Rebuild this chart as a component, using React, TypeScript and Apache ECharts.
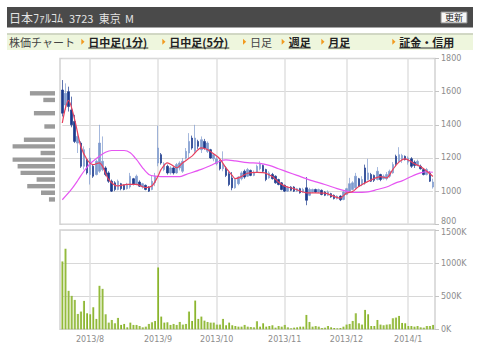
import React, { useEffect, useRef } from 'react';
import * as echarts from 'echarts';

// ---- categories (trading days) ----
const monthLabels = ['2013/7', '2013/8', '2013/9', '2013/10', '2013/11', '2013/12', '2014/1'];
const monthDays = [
  [19, 22, 23, 24, 25, 26, 29, 30, 31],
  [1, 2, 5, 6, 7, 8, 9, 12, 13, 14, 15, 16, 19, 20, 21, 22, 23, 26, 27, 28, 29, 30],
  [2, 3, 4, 5, 6, 9, 10, 11, 12, 13, 17, 18, 19, 20, 24, 25, 26, 27, 30],
  [1, 2, 3, 4, 7, 8, 9, 10, 11, 15, 16, 17, 18, 21, 22, 23, 24, 25, 28, 29, 30, 31],
  [1, 5, 6, 7, 8, 11, 12, 13, 14, 15, 18, 19, 20, 21, 22, 25, 26, 27, 28, 29],
  [2, 3, 4, 5, 6, 9, 10, 11, 12, 13, 16, 17, 18, 19, 20, 24, 25, 26, 27, 30],
  [6, 7, 8, 9, 10, 14, 15, 16, 17],
];

// ---- daily prices (yen) ----
const openPrices = [
  1610, 1520, 1600, 1490, 1420, 1290, 1290, 1150, 1190, 1100, 1150, 1100, 1120, 1130, 1140, 1110, 1060, 1050, 1010, 1045,
  1035, 1015, 1025, 1075, 1045, 1055, 1025, 1035, 1025, 1010, 1050, 1170, 1220, 1130, 1150, 1110, 1140, 1110, 1140, 1120,
  1200, 1230, 1320, 1240, 1300, 1250, 1300, 1240, 1250, 1195, 1165, 1180, 1135, 1140, 1105, 1080, 1020, 1045, 1075, 1120,
  1090, 1125, 1095, 1115, 1135, 1155, 1130, 1080, 1100, 1090, 1070, 1050, 1035, 1000, 1025, 1025, 1000, 1015, 995, 1020,
  975, 995, 1010, 995, 1005, 995, 975, 985, 975, 955, 970, 950, 980, 1000, 1010, 1020, 1075, 1040, 1140, 1070,
  1100, 1095, 1070, 1100, 1075, 1075, 1090, 1110, 1210, 1180, 1190, 1210, 1175, 1195, 1175, 1155, 1150, 1130, 1100, 1110,
  1025,
];
const closePrices = [
  1470, 1590, 1510, 1400, 1300, 1330, 1150, 1250, 1110, 1200, 1090, 1180, 1290, 1180, 1100, 1060, 1000, 1010, 1060, 1015,
  1010, 1040, 1090, 1040, 1090, 1030, 1045, 1010, 1000, 1060, 1090, 1260, 1170, 1165, 1110, 1140, 1110, 1160, 1170, 1180,
  1240, 1300, 1260, 1320, 1270, 1310, 1260, 1290, 1200, 1220, 1195, 1135, 1160, 1095, 1040, 1020, 1070, 1085, 1110, 1085,
  1130, 1095, 1110, 1150, 1165, 1120, 1070, 1110, 1075, 1050, 1040, 1010, 1000, 1020, 1005, 1000, 1015, 990, 1010, 945,
  1010, 1010, 995, 1010, 980, 975, 995, 965, 955, 970, 948, 995, 1015, 1045, 1050, 1090, 1030, 1070, 1050, 1110,
  1060, 1065, 1120, 1070, 1090, 1100, 1120, 1160, 1165, 1220, 1215, 1190, 1200, 1150, 1155, 1180, 1135, 1100, 1130, 1060,
  1055,
];
const lowPrices = [
  1450, 1490, 1480, 1385, 1290, 1230, 1140, 1130, 1100, 1040, 1080, 1095, 1110, 1120, 1090, 1050, 995, 1000, 1005, 1005,
  1005, 1010, 1015, 1035, 1035, 1025, 1015, 1005, 995, 1005, 1030, 1150, 1160, 1120, 1100, 1100, 1100, 1105, 1125, 1110,
  1190, 1200, 1250, 1230, 1255, 1230, 1250, 1230, 1195, 1180, 1155, 1125, 1120, 1085, 1030, 1005, 1015, 1035, 1065, 1075,
  1085, 1090, 1090, 1110, 1125, 1110, 1060, 1075, 1070, 1045, 1035, 1005, 995, 995, 1000, 995, 995, 985, 990, 915,
  970, 990, 990, 990, 975, 970, 970, 960, 950, 950, 940, 945, 975, 995, 1005, 1010, 1025, 1030, 1040, 1065,
  1055, 1055, 1065, 1060, 1070, 1065, 1080, 1105, 1150, 1170, 1170, 1185, 1160, 1140, 1140, 1150, 1130, 1095, 1095, 1055,
  1015,
];
const highPrices = [
  1670, 1650, 1630, 1570, 1460, 1360, 1300, 1270, 1200, 1260, 1160, 1190, 1400, 1330, 1150, 1120, 1070, 1060, 1070, 1050,
  1040, 1050, 1110, 1080, 1100, 1065, 1050, 1040, 1030, 1095, 1110, 1395, 1230, 1175, 1160, 1150, 1145, 1170, 1180, 1200,
  1260, 1350, 1335, 1400, 1310, 1330, 1315, 1300, 1255, 1230, 1210, 1190, 1240, 1150, 1115, 1115, 1080, 1090, 1120, 1130,
  1140, 1130, 1125, 1160, 1180, 1160, 1135, 1120, 1110, 1095, 1075, 1055, 1040, 1030, 1030, 1030, 1020, 1020, 1020, 1085,
  1020, 1015, 1015, 1015, 1010, 1000, 1005, 990, 980, 975, 975, 1000, 1020, 1080, 1060, 1110, 1080, 1090, 1160, 1195,
  1110, 1100, 1145, 1105, 1100, 1115, 1130, 1175, 1220, 1265, 1225, 1215, 1210, 1205, 1185, 1190, 1160, 1135, 1140, 1120,
  1075,
];

// ---- daily volume (thousand shares) ----
const volumesK = [
  1025, 1217, 581, 505, 444, 232, 268, 429, 242, 227, 333, 157, 657, 611, 227, 101, 141, 91, 172, 66,
  81, 30, 101, 66, 66, 50, 30, 40, 81, 106, 126, 934, 192, 101, 106, 66, 81, 66, 111, 71,
  81, 268, 126, 434, 157, 192, 131, 111, 101, 101, 71, 71, 157, 61, 101, 61, 50, 40, 40, 66,
  40, 35, 30, 121, 40, 91, 40, 50, 61, 25, 50, 40, 66, 30, 15, 25, 30, 40, 40, 217,
  111, 40, 50, 40, 20, 25, 50, 30, 20, 15, 20, 40, 71, 81, 126, 242, 91, 71, 293, 227,
  50, 50, 141, 71, 61, 71, 76, 167, 177, 202, 96, 91, 50, 50, 40, 50, 30, 25, 50, 50,
  66,
];

// ---- moving averages: [day index, yen] ----
const ma5Points = [
  [0, 1411], [1, 1500], [2, 1547], [4, 1431], [6, 1271], [8, 1191], [10, 1160], [12, 1171], [13, 1151], [15, 1071],
  [18, 1031], [21, 1041], [24, 1041], [27, 1021], [29, 1031], [31, 1091], [32, 1131], [34, 1171], [36, 1151], [37, 1141],
  [39, 1171], [42, 1211], [45, 1261], [47, 1251], [49, 1225], [51, 1195], [53, 1140], [55, 1095], [56, 1075], [58, 1088],
  [60, 1108], [63, 1113], [65, 1112], [68, 1088], [70, 1055], [72, 1030], [75, 1015], [79, 990], [85, 988], [88, 968],
  [90, 958], [92, 988], [94, 998], [96, 1028], [100, 1068], [103, 1088], [105, 1080], [107, 1130], [109, 1175], [111, 1195],
  [114, 1165], [116, 1148], [119, 1105], [120, 1088],
];
const ma25Points = [
  [0, 948], [3, 1012], [5, 1064], [7, 1120], [9, 1165], [12, 1211], [14, 1235], [16, 1245], [20, 1245], [22, 1231],
  [24, 1191], [26, 1141], [28, 1101], [30, 1091], [34, 1087], [38, 1087], [40, 1100], [45, 1131], [48, 1155], [51, 1180],
  [53, 1188], [56, 1182], [60, 1172], [64, 1168], [67, 1155], [70, 1135], [73, 1115], [76, 1095], [80, 1068], [85, 1040],
  [89, 1015], [91, 1005], [94, 992], [99, 995], [102, 1010], [105, 1025], [108, 1050], [110, 1062], [113, 1088], [116, 1110],
  [118, 1117], [120, 1114],
];

// ---- volume-by-price profile ----
const profilePrices = [1590, 1550, 1470, 1390, 1310, 1270, 1230, 1190, 1150, 1110, 1070, 1030, 990, 950];
const profileVolumesK = [1200, 560, 1010, 510, 1490, 2030, 690, 2030, 1790, 1650, 880, 1330, 670, 290];

// ---- axes ----
const priceMin = 800;
const priceMax = 1800;
const priceStep = 200;
const volMaxK = 1500;
const volStepK = 500;

const navItems = ['日中足(1分)', '日中足(5分)', '日足', '週足', '月足', '証金・信用'];

const dates: string[] = monthLabels.flatMap((m, k) => monthDays[k].map((d) => `${m}/${d}`));
const monthStartIdx: number[] = [];
{
  let acc = 0;
  monthDays.forEach((days, k) => {
    if (k > 0) monthStartIdx.push(acc);
    acc += days.length;
  });
}
const isMonthStart = (i: number) => monthStartIdx.indexOf(i) >= 0;

export default function App() {
  const ref = useRef<HTMLDivElement>(null);

  useEffect(() => {
    if (!ref.current) return;
    const chart = echarts.init(ref.current, undefined, { renderer: 'svg' });

    const cjk = '"Noto Sans CJK JP"';
    const navX = [88.3, 169.3, 250, 288.7, 328.3, 399.3];
    const navW = [60, 60, 20.7, 22, 21.7, 50.7];
    const navLink = [true, true, false, true, true, true];
    const graphics: any[] = [
      { type: 'rect', shape: { x: 7, y: 7, width: 466, height: 20.5 }, style: { fill: '#4a4a4a' } },
      { type: 'text', x: 9, y: 17.5, style: { text: '日本ﾌｧﾙｺﾑ', fill: '#e4e4e4', font: `12px ${cjk}`, verticalAlign: 'middle' } },
      { type: 'text', x: 69, y: 17.5, style: { text: '3723', fill: '#e4e4e4', font: `11px ${cjk}`, verticalAlign: 'middle' } },
      { type: 'text', x: 98.7, y: 17.5, style: { text: '東京', fill: '#e4e4e4', font: `11px ${cjk}`, verticalAlign: 'middle' } },
      { type: 'text', x: 125, y: 17.5, style: { text: 'M', fill: '#e4e4e4', font: `11px ${cjk}`, verticalAlign: 'middle' } },
      { type: 'rect', shape: { x: 441, y: 12, width: 26, height: 11 }, style: { fill: '#f6f6f6', stroke: '#8a8a8a', lineWidth: 1 } },
      { type: 'text', x: 454, y: 17.7, style: { text: '更新', fill: '#222', font: `9px ${cjk}`, align: 'center', verticalAlign: 'middle' } },
      { type: 'rect', shape: { x: 7, y: 33.5, width: 466, height: 16.5 }, style: { fill: '#eef6dd' } },
      { type: 'line', shape: { x1: 7, y1: 34, x2: 473, y2: 34 }, style: { stroke: '#c6ccb8', lineWidth: 1.5 } },
      { type: 'text', x: 9, y: 41.8, style: { text: '株価チャート', fill: '#444', font: `11px ${cjk}`, verticalAlign: 'middle' } },
      { type: 'rect', shape: { x: 60, y: 58.5, width: 375, height: 165.8 }, style: { fill: 'none', stroke: '#d2d2d2', lineWidth: 1.5 } },
      { type: 'rect', shape: { x: 60, y: 230, width: 375, height: 99.3 }, style: { fill: 'none', stroke: '#d2d2d2', lineWidth: 1.5 } },
    ];
    navItems.forEach((t, i) => {
      const x = navX[i];
      const tx = x - 7;
      graphics.push({
        type: 'polygon',
        shape: { points: [[tx, 38.8], [tx, 44.8], [tx + 3.2, 41.8]] },
        style: { fill: '#f29a1f' },
      });
      graphics.push({
        type: 'text', x, y: 41.8,
        style: {
          text: t, fill: navLink[i] ? '#222' : '#444',
          fontFamily: 'Noto Sans CJK JP', fontSize: 11, fontWeight: navLink[i] ? 'bold' : 'normal',
          verticalAlign: 'middle', width: navW[i], overflow: 'none',
        },
      });
      if (navLink[i]) {
        graphics.push({ type: 'line', shape: { x1: x, y1: 48, x2: x + navW[i], y2: 48 }, style: { stroke: '#333', lineWidth: 1 } });
      }
    });

    const axisLabelStyle = { color: '#8c8c8c', fontSize: 8, fontFamily: 'DejaVu Sans' };
    const vSplit = { show: true, interval: (i: number) => isMonthStart(i), lineStyle: { color: '#e0e0e0', width: 1.5 } };
    const hSplit = { show: true, lineStyle: { color: '#d8d8d8', width: 1 } };

    const option: any = {
      animation: false,
      backgroundColor: '#ffffff',
      textStyle: { fontFamily: 'DejaVu Sans' },
      grid: [
        { left: 62.3, right: 47.1, top: 58.5, height: 165.8 },
        { left: 62.3, right: 47.1, top: 230, height: 99.3 },
        { left: 8, width: 47, top: 58.5, height: 165.8 },
      ],
      xAxis: [
        {
          type: 'category', gridIndex: 0, data: dates, boundaryGap: false,
          axisLine: { show: false }, axisTick: { show: false }, axisLabel: { show: false },
          splitLine: vSplit,
        },
        {
          type: 'category', gridIndex: 1, data: dates, boundaryGap: false,
          axisLine: { show: false }, axisTick: { show: false },
          axisLabel: {
            ...axisLabelStyle, margin: 6,
            interval: (i: number) => isMonthStart(i),
            formatter: (v: string) => v.split('/').slice(0, 2).join('/'),
          },
          splitLine: vSplit,
        },
        { type: 'value', gridIndex: 2, inverse: true, min: 0, max: 2250, show: false },
      ],
      yAxis: [
        {
          type: 'value', gridIndex: 0, position: 'right', offset: 2.1,
          min: priceMin, max: priceMax, interval: priceStep,
          axisLine: { show: false },
          axisTick: { show: true, length: 4, lineStyle: { color: '#c4c4c4' } },
          axisLabel: {
            ...axisLabelStyle, margin: 6,
            formatter: (v: number) => (v === priceMin ? `{lo|${v}}` : String(v)),
            rich: { lo: { ...axisLabelStyle, padding: [0, 0, 5, 0] } },
          },
          splitLine: hSplit,
        },
        {
          type: 'value', gridIndex: 1, position: 'right', offset: 2.1,
          min: 0, max: volMaxK, interval: volStepK,
          axisLine: { show: false },
          axisTick: { show: true, length: 4, lineStyle: { color: '#c4c4c4' } },
          axisLabel: {
            ...axisLabelStyle, margin: 6,
            formatter: (v: number) => (v === volMaxK ? `{hi|${v}K}` : `${v}K`),
            rich: { hi: { ...axisLabelStyle, padding: [5, 0, 0, 0] } },
          },
          splitLine: hSplit,
        },
        { type: 'value', gridIndex: 2, min: priceMin, max: priceMax, show: false },
      ],
      series: [
        {
          type: 'candlestick', xAxisIndex: 0, yAxisIndex: 0,
          data: dates.map((_, i) => [openPrices[i], closePrices[i], lowPrices[i], highPrices[i]]),
          barWidth: 2,
          itemStyle: {
            color: '#7f9bcf', color0: '#1b3a8c',
            borderColor: '#7f9bcf', borderColor0: '#1b3a8c', borderWidth: 0.7,
          },
        },
        {
          type: 'line', xAxisIndex: 0, yAxisIndex: 0, data: ma25Points, smooth: 0.3,
          showSymbol: false, lineStyle: { color: '#e655f2', width: 1.2 }, z: 3,
        },
        {
          type: 'line', xAxisIndex: 0, yAxisIndex: 0, data: ma5Points, smooth: 0.3,
          showSymbol: false, lineStyle: { color: '#e8405e', width: 1.2 }, z: 4,
        },
        {
          type: 'bar', xAxisIndex: 1, yAxisIndex: 1, data: volumesK, barWidth: 2,
          itemStyle: {
            color: new echarts.graphic.LinearGradient(0, 0, 1, 0, [
              { offset: 0, color: '#b3d365' },
              { offset: 1, color: '#7aa61e' },
            ]),
          },
        },
        {
          type: 'custom', xAxisIndex: 2, yAxisIndex: 2,
          data: profilePrices.map((p, i) => [profileVolumesK[i], p]),
          renderItem: (_params: any, api: any) => {
            const v = api.value(0);
            const p = api.value(1);
            const a = api.coord([0, p]);
            const b = api.coord([v, p]);
            return {
              type: 'rect',
              shape: { x: Math.min(a[0], b[0]), y: a[1] - 2.2, width: Math.abs(a[0] - b[0]), height: 4.4 },
              style: { fill: '#9b9b9b' },
            };
          },
        },
      ],
      graphic: graphics,
    };

    chart.setOption(option);
    return () => chart.dispose();
  }, []);

  return (
    <div
      ref={ref}
      style={{ position: 'absolute', left: 0, top: 0, width: 480, height: 348, background: '#ffffff' }}
    />
  );
}
